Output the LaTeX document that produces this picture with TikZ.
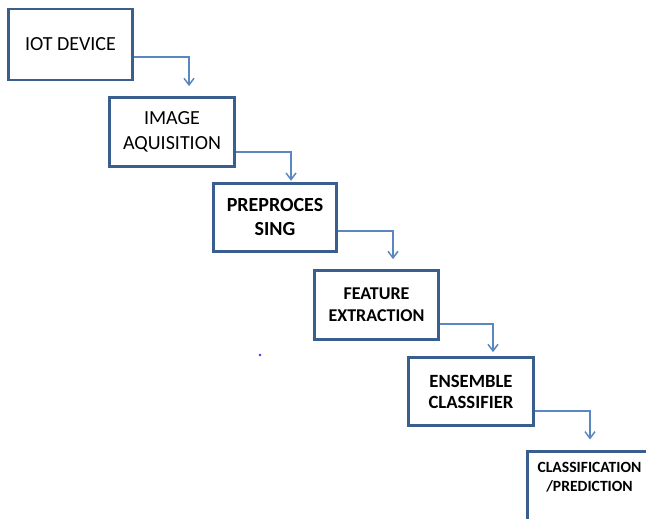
\documentclass[tikz,border=0pt]{standalone}
\usepackage{fontspec}
\setmainfont{Carlito}
\usetikzlibrary{arrows.meta,calc}
\definecolor{boxline}{HTML}{3A5F8E}
\definecolor{connline}{HTML}{5A87C0}
\begin{document}
\begin{tikzpicture}[x=0.75pt,y=-0.75pt,
  stage/.style={draw=boxline, line width=2pt, rectangle, align=center,
    inner sep=0pt, text=black},
  conn/.style={draw=connline, line width=1.1pt,
    -{Straight Barb[length=5pt,width=7.5pt]}}]
\useasboundingbox (0,0) rectangle (646,518);

% pipeline stages
\node[stage, minimum width=124*0.75pt, minimum height=71*0.75pt,
  font={\fontsize{15}{18.75}\selectfont}] (b1) at (70.5,44.5) {IOT DEVICE};
\node[stage, minimum width=125*0.75pt, minimum height=69*0.75pt,
  font={\fontsize{15}{18.75}\selectfont}] (b2) at (172,132) {IMAGE\\AQUISITION};
\node[stage, minimum width=123*0.75pt, minimum height=68*0.75pt,
  font={\bfseries\fontsize{15}{18}\selectfont}] (b3) at (275,217.5) {PREPROCES\\SING};
\node[stage, minimum width=124*0.75pt, minimum height=69*0.75pt,
  font={\bfseries\fontsize{13.5}{16.5}\selectfont}] (b4) at (376.5,305) {FEATURE\\EXTRACTION};
\node[stage, minimum width=125*0.75pt, minimum height=68*0.75pt,
  font={\bfseries\fontsize{14}{15.75}\selectfont}] (b5) at (471,391.5) {ENSEMBLE\\CLASSIFIER};
\node[stage, minimum width=124*0.75pt, minimum height=69*0.75pt,
  label={[name=b6text, align=center, text=black, yshift=6.4pt,
    font={\bfseries\fontsize{11.7}{14.25}\selectfont}]center:CLASSIFICATION\\/PREDICTION}]
  (b6) at (589.5,486) {};

% connectors
\draw[conn, shorten >=7.5pt] ($(b1.east)+(0,12.5)$) -| ($(b2.north)+(17,0)$);
\draw[conn, shorten >=1pt]   ($(b2.east)+(0,20)$)   -| ($(b3.north)+(16,0)$);
\draw[conn, shorten >=7.5pt] ($(b3.east)+(0,13.5)$) -| ($(b4.north)+(16.5,0)$);
\draw[conn, shorten >=3pt]   ($(b4.east)+(0,19)$)   -| ($(b5.north)+(22,0)$);
\draw[conn, shorten >=8pt]   ($(b5.east)+(0,19.5)$) -| ($(b6.north)+(0.5,0)$);

% small stray mark
\fill[blue!80!white] (260,355) circle (1.3);
\end{tikzpicture}
\end{document}
